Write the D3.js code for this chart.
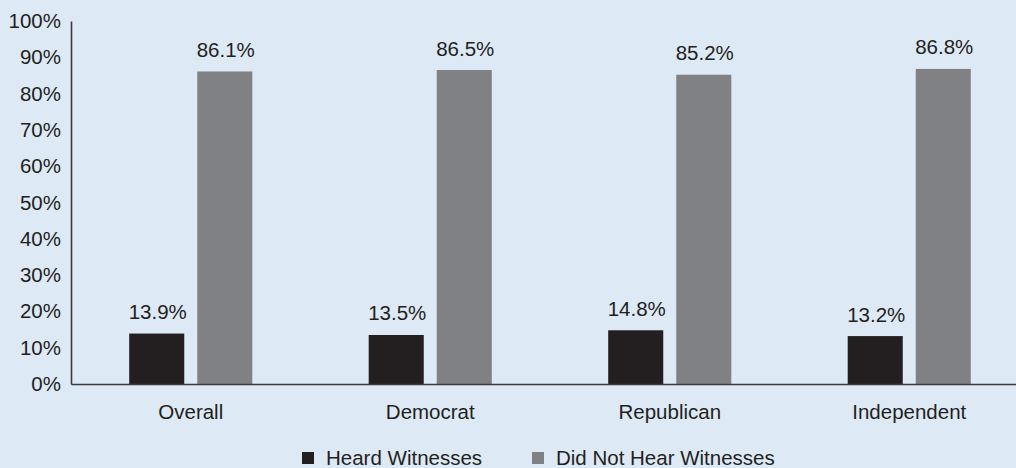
<!DOCTYPE html>
<html>
<head>
<meta charset="utf-8">
<script src="https://cdn.jsdelivr.net/npm/d3@7"></script>
<style>
  html, body { margin: 0; padding: 0; background: #dee9f6; }
  svg { display: block; }
  text { font-family: "Liberation Sans", Arial, Helvetica, sans-serif; fill: #231f20; }
</style>
</head>
<body>
<svg id="chart" width="1016" height="468"></svg>
<script>
// Party groups along the x axis
const categories = ["Overall", "Democrat", "Republican", "Independent"];
// Series names (legend order) and their values in percent
const seriesNames = ["Heard Witnesses", "Did Not Hear Witnesses"];
const heardWitnesses = [13.9, 13.5, 14.8, 13.2];
const didNotHearWitnesses = [86.1, 86.5, 85.2, 86.8];
// Y axis tick values in percent
const yTicks = [0, 10, 20, 30, 40, 50, 60, 70, 80, 90, 100];

const seriesValues = [heardWitnesses, didNotHearWitnesses];
const colors = ["#231f20", "#808184"];

const W = 1016, H = 468;
const margin = { left: 71, right: -13, top: 21, bottom: 84 };
const svg = d3.select("#chart");

const x0 = d3.scaleBand()
  .domain(categories)
  .range([margin.left, W - margin.right])
  .paddingInner(0.486)
  .paddingOuter(0.243);

const x1 = d3.scaleBand()
  .domain(seriesNames)
  .range([0, x0.bandwidth()])
  .paddingInner(0.191)
  .paddingOuter(0);

const y = d3.scaleLinear()
  .domain([0, 100])
  .range([H - margin.bottom, margin.top]);

const fontSize = 20.5;

// Bars
const rows = categories.map((c, i) => ({
  category: c,
  values: seriesNames.map((s, j) => ({ series: s, idx: j, value: seriesValues[j][i] }))
}));

const groups = svg.append("g").selectAll("g")
  .data(rows)
  .join("g")
  .attr("transform", d => `translate(${x0(d.category)},0)`);

groups.selectAll("rect")
  .data(d => d.values)
  .join("rect")
  .attr("x", d => x1(d.series))
  .attr("width", x1.bandwidth())
  .attr("y", d => y(d.value))
  .attr("height", d => y(0) - y(d.value))
  .attr("fill", d => colors[d.idx]);

// Value labels above bars
groups.selectAll("text.value")
  .data(d => d.values)
  .join("text")
  .attr("class", "value")
  .attr("x", d => x1(d.series) + x1.bandwidth() / 2 + 1)
  .attr("y", d => y(d.value) - 14.5)
  .attr("text-anchor", "middle")
  .style("font-size", fontSize + "px")
  .text(d => d.value.toFixed(1) + "%");

// Y axis
const yAxis = d3.axisLeft(y)
  .tickValues(yTicks)
  .tickSize(0)
  .tickPadding(10)
  .tickFormat(d => d + "%");

const gy = svg.append("g")
  .attr("transform", `translate(${margin.left},0)`)
  .call(yAxis);
gy.select(".domain").attr("stroke", "#3d3b3c").attr("stroke-width", 1.6);
gy.selectAll("text")
  .style("font-size", fontSize + "px")
  .attr("font-family", null)
  .attr("fill", "#231f20");

// X axis
const xAxis = d3.axisBottom(x0).tickSize(0).tickPadding(20);
const gx = svg.append("g")
  .attr("transform", `translate(0,${y(0)})`)
  .call(xAxis);
gx.select(".domain").attr("stroke", "#3d3b3c").attr("stroke-width", 1.6);
gx.selectAll("text")
  .style("font-size", fontSize + "px")
  .attr("font-family", null)
  .attr("fill", "#231f20")
  .attr("dy", "0.71em");

// Legend
const legendX = [302, 532];
const legend = svg.append("g").attr("transform", "translate(0,458)");
const items = legend.selectAll("g")
  .data(seriesNames)
  .join("g")
  .attr("transform", (d, i) => `translate(${legendX[i]},0)`);
items.append("rect")
  .attr("x", 0).attr("y", -6)
  .attr("width", 12).attr("height", 12)
  .attr("fill", (d, i) => colors[i]);
items.append("text")
  .attr("x", 24)
  .attr("y", 7)
  .style("font-size", fontSize + "px")
  .text(d => d);
</script>
</body>
</html>
